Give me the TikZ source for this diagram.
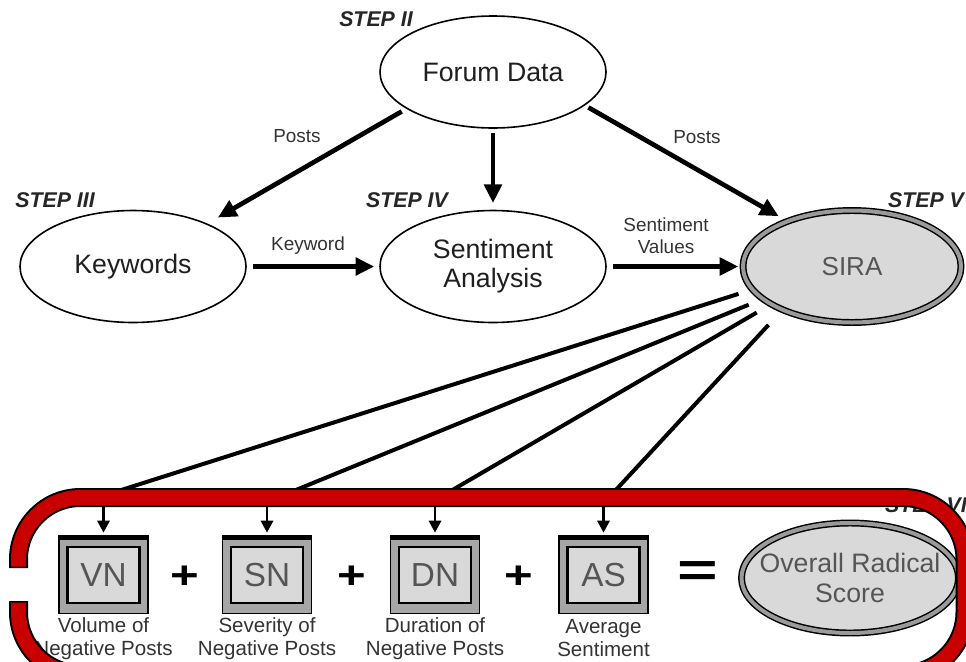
\documentclass[tikz,border=0pt]{standalone}
\usepackage{fontspec}
\setmainfont{Liberation Sans}
\usetikzlibrary{shapes.geometric,arrows.meta}
\definecolor{bandred}{HTML}{C80000}
\definecolor{ringgray}{HTML}{9A9A9A}
\definecolor{fillgray}{HTML}{D9D9D9}
\definecolor{boxgray}{HTML}{A6A6A6}
\definecolor{txtgray}{HTML}{555555}
\definecolor{lblgray}{HTML}{333333}
\begin{document}
\begin{tikzpicture}[x=0.75pt,y=-0.75pt,
  oval/.style={ellipse, draw=black, line width=1.2pt, inner sep=0pt,
    minimum width=169.5pt, minimum height=84pt,
    font=\fontsize{20}{21.75}\selectfont, text=black!88, align=center},
  ring/.style={ellipse, draw=black, line width=1.1pt, double=ringgray,
    double distance=3pt, fill=fillgray, inner sep=0pt, text=txtgray, align=center},
  bigarrow/.style={-{Triangle[length=14pt,width=13pt]}, line width=3.5pt},
  radline/.style={line width=3pt},
  smallarrow/.style={-{Triangle[length=9pt,width=9pt]}, line width=2.2pt},
  edgelbl/.style={font=\fontsize{14.2}{16.5}\selectfont, text=lblgray, align=center, inner sep=0pt},
  steplbl/.style={font=\fontsize{16}{16}\selectfont\bfseries\itshape, text=black!85, inner sep=0pt},
  outerbox/.style={rectangle, draw=black, line width=1.2pt, fill=boxgray,
    minimum width=66.75pt, minimum height=58.5pt, inner sep=0pt,
    path picture={\fill[black] (path picture bounding box.north west) rectangle ([yshift=-3pt]path picture bounding box.north east);}},
  innerbox/.style={rectangle, draw=black, line width=1.8pt, fill=fillgray,
    minimum width=54pt, minimum height=42pt, inner sep=0pt, text=txtgray,
    font=\fontsize{25}{25}\selectfont},
  boxlbl/.style={font=\fontsize{15.4}{17.25}\selectfont, text=lblgray, align=center, inner sep=0pt},
  opsign/.style={inner sep=0pt, text=black}
]
\useasboundingbox (0,0) rectangle (966,661);
\clip (0,0) rectangle (966,661);
\fill[white] (0,0) rectangle (966,661);

% top ellipses
\node[oval] (forum) at (493,72) {Forum Data};
\node[oval] (kw) at (133,266.5) {Keywords};
\node[oval] (sa) at (493,266.5) {Sentiment\\Analysis};
\node[ring, minimum width=163.5pt, minimum height=84pt, font=\fontsize{19.5}{21}\selectfont] (sira) at (852,266.5) {SIRA};

% step labels
\node[steplbl] (s2) at (376,19) {STEP II};
\node[steplbl] (s3) at (55,200) {STEP III};
\node[steplbl] (s4) at (407,200) {STEP IV};
\node[steplbl] (s5) at (926,200) {STEP V};

% main arrows
\draw[bigarrow, shorten <=4pt, shorten >=9pt] (forum.203) -- (kw.30);
\draw[bigarrow, shorten <=3pt, shorten >=5pt] (forum.south) -- (sa.north);
\draw[bigarrow, shorten <=3pt, shorten >=7pt] (forum.-20) -- (sira.145);
\draw[bigarrow, shorten <=4.5pt, shorten >=3.75pt] (kw.east) -- (sa.west);
\draw[bigarrow, shorten <=4.5pt, shorten >=3pt] (sa.east) -- (sira.west);

% edge labels
\node[edgelbl] (l1) at (297,136) {Posts};
\node[edgelbl] (l2) at (697,137) {Posts};
\node[edgelbl] (l3) at (308,246) {Keyword};
\node[edgelbl] (l4) at (666,236) {Sentiment\\Values};

% bottom boxes
\node[outerbox] (vn) at (103.5,574.5) {};
\node[innerbox] (vnt) at (103.5,575) {VN};
\node[outerbox] (sn) at (267,574.5) {};
\node[innerbox] (snt) at (267,575) {SN};
\node[outerbox] (dn) at (435,574.5) {};
\node[innerbox] (dnt) at (435,575) {DN};
\node[outerbox] (as) at (603.5,574.5) {};
\node[innerbox] (ast) at (603.5,575) {AS};

\node[boxlbl] (vnl) at (103.5,638.5) {Volume of\\Negative Posts};
\node[boxlbl] (snl) at (267,638.5) {Severity of\\Negative Posts};
\node[boxlbl] (dnl) at (435,638.5) {Duration of\\Negative Posts};
\node[boxlbl] (asl) at (603.5,638.5) {Average\\Sentiment};

\node[opsign] (p1) at (185,577) {\scalebox{1.15}[0.9]{\fontsize{32}{32}\selectfont\bfseries +}};
\node[opsign] (p2) at (352,577) {\scalebox{1.15}[0.9]{\fontsize{32}{32}\selectfont\bfseries +}};
\node[opsign] (p3) at (519,577) {\scalebox{1.15}[0.9]{\fontsize{32}{32}\selectfont\bfseries +}};
\node[opsign] (eq) at (698,574) {\scalebox{1.45}[1]{\fontsize{36}{36}\selectfont\bfseries =}};

\node[ring, minimum width=162.75pt, minimum height=82.5pt, inner xsep=-12pt,
  font=\fontsize{20}{22.5}\selectfont] (ors) at (850,578) {Overall Radical\\Score};

\node[steplbl] (s6) at (926,505) {STEP VI};

% lines from SIRA to the band
\coordinate (t1) at (115,492);
\coordinate (t2) at (291,492);
\coordinate (t3) at (449,492);
\coordinate (t4) at (614,492);
\draw[radline, shorten <=10.5pt] (sira.193) -- (t1);
\draw[radline, shorten <=11pt] (sira.200.4) -- (t2);
\draw[radline, shorten <=12pt] (sira.205.3) -- (t3);
\draw[radline, shorten <=15pt] (sira.212.9) -- (t4);

% small arrows into boxes
\coordinate (b1) at (103.5,503);
\coordinate (b2) at (267,503);
\coordinate (b3) at (435,503);
\coordinate (b4) at (603.5,503);
\draw[smallarrow, shorten >=1.5pt] (b1) -- (vn);
\draw[smallarrow, shorten >=1.5pt] (b2) -- (sn);
\draw[smallarrow, shorten >=1.5pt] (b3) -- (dn);
\draw[smallarrow, shorten >=1.5pt] (b4) -- (as);

% red band
\draw[line width=14.25pt, black, rounded corners=46.5pt]
  (18.5,568) -- (18.5,497.5) -- (965,497.5) -- (965,674) -- (18.5,674) -- (18.5,601);
\draw[line width=11.25pt, bandred, rounded corners=46.5pt]
  (18.5,566.5) -- (18.5,497.5) -- (965,497.5) -- (965,674) -- (18.5,674) -- (18.5,602.5);
\end{tikzpicture}
\end{document}
